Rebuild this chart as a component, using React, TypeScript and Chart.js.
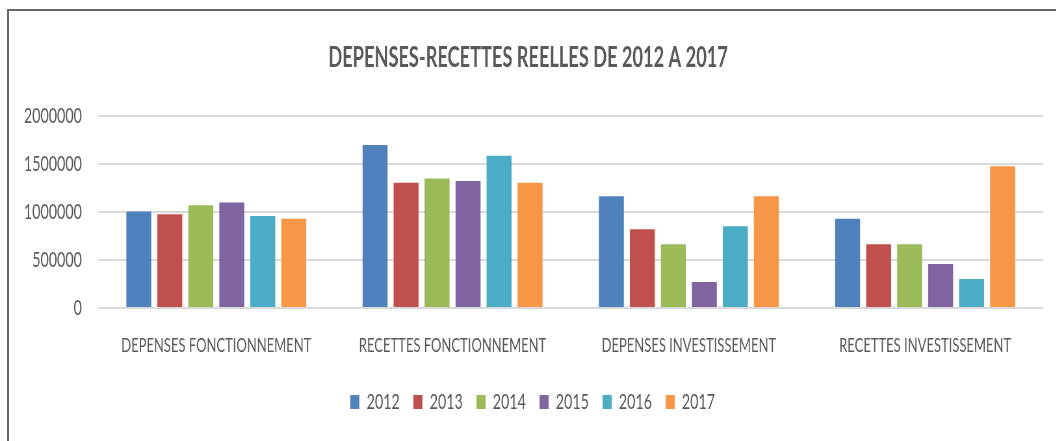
import React, { useEffect, useRef } from 'react';
import { Chart, registerables } from 'chart.js';

Chart.register(...registerables);

const TITLE = 'DEPENSES-RECETTES REELLES DE 2012 A 2017';
const categories = [
  'DEPENSES FONCTIONNEMENT',
  'RECETTES FONCTIONNEMENT',
  'DEPENSES INVESTISSEMENT',
  'RECETTES INVESTISSEMENT',
];
const years = ['2012', '2013', '2014', '2015', '2016', '2017'];
const colors = ['#4F81BD', '#C0504D', '#9BBB59', '#8064A2', '#4BACC6', '#F79646'];

const v2012 = [1005000, 1698000, 1163000, 930000];
const v2013 = [976000, 1305000, 820000, 663000];
const v2014 = [1070000, 1350000, 663000, 663000];
const v2015 = [1100000, 1323000, 270000, 458000];
const v2016 = [958000, 1587000, 851000, 302000];
const v2017 = [930000, 1305000, 1163000, 1476000];
const seriesValues = [v2012, v2013, v2014, v2015, v2016, v2017];

const yMin = 0;
const yMax = 2000000;
const yStep = 500000;

const TEXT = '#595959';
const FONT = 'Lato, "Open Sans", sans-serif';
const SX = 0.65; // horizontal condensation of the whole drawing
const CW = Math.round(1056 / SX);
const CH = 441;

const titlePlugin = {
  id: 'condensedTitle',
  afterDraw(chart: any) {
    const ctx = chart.ctx;
    ctx.save();
    ctx.font = `bold 28px ${FONT}`;
    ctx.fillStyle = TEXT;
    ctx.textAlign = 'center';
    ctx.textBaseline = 'middle';
    ctx.fillText(TITLE, chart.width / 2, 58);
    ctx.restore();
  },
};

export default function App() {
  const ref = useRef<HTMLCanvasElement>(null);

  useEffect(() => {
    document.body.style.margin = '0';
    const canvas = ref.current!;
    const chart = new Chart(canvas, {
      type: 'bar',
      data: {
        labels: categories,
        datasets: years.map((y, i) => ({
          label: y,
          data: seriesValues[i],
          backgroundColor: colors[i],
          borderWidth: 0,
          categoryPercentage: 0.787,
          barPercentage: 0.806,
        })),
      },
      options: {
        animation: false,
        responsive: false,
        devicePixelRatio: 1,
        layout: { padding: { left: 34, right: 20, top: 116, bottom: 18 } },
        plugins: {
          title: { display: false },
          tooltip: { enabled: false },
          legend: {
            position: 'bottom',
            labels: {
              boxWidth: 14,
              boxHeight: 14,
              padding: 21,
              color: TEXT,
              font: { family: FONT, size: 22 },
            },
          },
        },
        scales: {
          x: {
            grid: { display: false },
            border: { display: false },
            ticks: {
              color: TEXT,
              font: { family: FONT, size: 20 },
              padding: 18,
              maxRotation: 0,
              autoSkip: false,
            },
            afterFit: (s: any) => {
              s.height = 62;
            },
          },
          y: {
            min: yMin,
            max: yMax,
            ticks: {
              stepSize: yStep,
              padding: 25,
              color: TEXT,
              font: { family: FONT, size: 22 },
              callback: (v: any) => String(v),
            },
            grid: { color: '#D9D9D9', lineWidth: 2, drawTicks: false },
            border: { display: false },
            afterFit: (s: any) => {
              s.width = 117;
            },
          },
        },
      },
      plugins: [titlePlugin],
    });
    return () => chart.destroy();
  }, []);

  return (
    <div
      style={{
        position: 'fixed',
        left: 0,
        top: 0,
        width: 1056,
        height: 441,
        overflow: 'hidden',
        background: '#fff',
      }}
    >
      <div
        style={{
          position: 'absolute',
          left: 0,
          top: 0,
          width: CW,
          height: CH,
          transform: `scaleX(${SX})`,
          transformOrigin: '0 0',
        }}
      >
        <canvas ref={ref} width={CW} height={CH} />
      </div>
      <div
        style={{
          position: 'absolute',
          left: 7,
          top: 9,
          right: -10,
          bottom: -10,
          borderTop: '2px solid #666',
          borderLeft: '2px solid #666',
          pointerEvents: 'none',
        }}
      />
    </div>
  );
}
